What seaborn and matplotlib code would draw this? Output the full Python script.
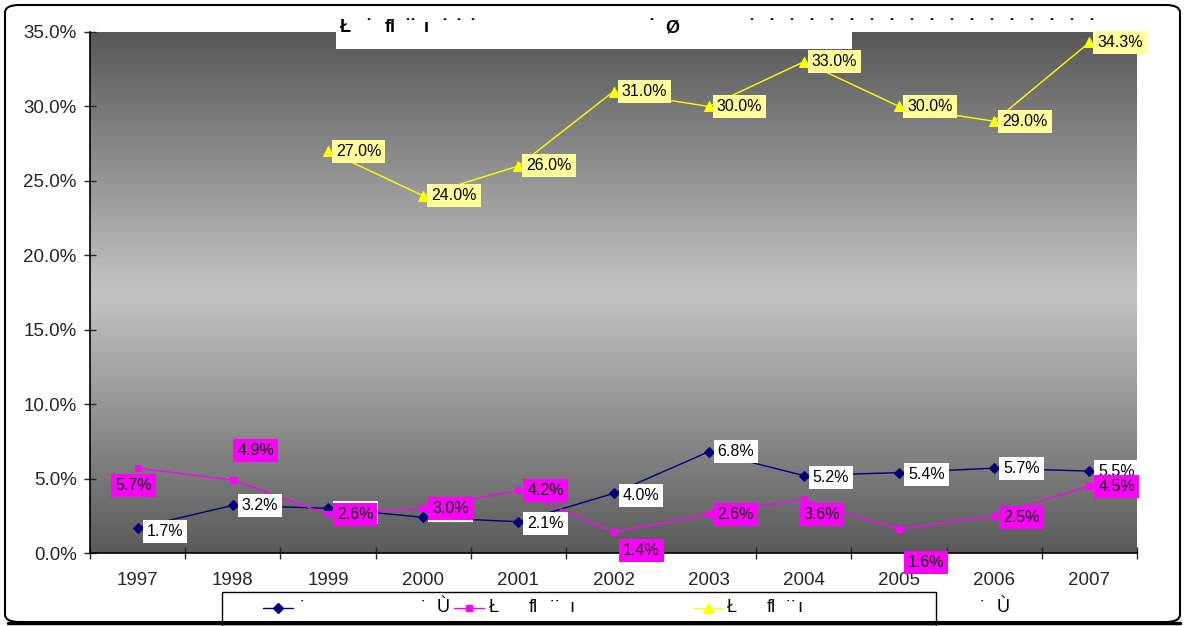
import numpy as np
import pandas as pd
import matplotlib
matplotlib.use("Agg")
import matplotlib.pyplot as plt
import seaborn as sns
from matplotlib.patches import FancyBboxPatch, Rectangle
from matplotlib.lines import Line2D
from matplotlib.colors import LinearSegmentedColormap
from matplotlib.ticker import FuncFormatter, FixedLocator

# ---------------- data ----------------
years = ['1997', '1998', '1999', '2000', '2001', '2002', '2003', '2004', '2005', '2006', '2007']
blue_vals = [1.7, 3.2, 3.0, 2.4, 2.1, 4.0, 6.8, 5.2, 5.4, 5.7, 5.5]
magenta_vals = [5.7, 4.9, 2.6, 3.0, 4.2, 1.4, 2.6, 3.6, 1.6, 2.5, 4.5]
yellow_vals = [np.nan, np.nan, 27.0, 24.0, 26.0, 31.0, 30.0, 33.0, 30.0, 29.0, 34.3]
y_ticks = [0, 5, 10, 15, 20, 25, 30, 35]

# ---------------- style ----------------
W, H = 1184, 626
sns.set_style("white")
plt.rcParams['font.family'] = ['Liberation Sans', 'DejaVu Sans']

fig = plt.figure(figsize=(W / 100, H / 100), dpi=100)
fig.patch.set_facecolor('white')

def fx(px):
    return px / W

def fy(py):
    return 1 - py / H

ax = fig.add_axes([fx(90), fy(553), fx(1137) - fx(90), fy(32) - fy(553)])
idx = np.arange(len(years))

# gradient background
cmap = LinearSegmentedColormap.from_list('g', ['#585858', '#c4c4c4', '#5a5a5a'])
grad = np.linspace(0, 1, 256).reshape(-1, 1)
ax.imshow(grad, extent=(-0.5, len(years) - 0.5, 0, 35), aspect='auto', cmap=cmap,
          origin='upper', zorder=0, interpolation='bicubic')

df = pd.DataFrame({'x': idx, 'blue': blue_vals, 'magenta': magenta_vals, 'yellow': yellow_vals})

sns.lineplot(data=df, x='x', y='blue', color='#000080', marker='D', markersize=5,
             markeredgecolor='#000080', linewidth=1, ax=ax, zorder=2)
sns.lineplot(data=df, x='x', y='magenta', color='#FF00FF', marker='s', markersize=5,
             markeredgecolor='#FF00FF', linewidth=1, ax=ax, zorder=2)
sns.lineplot(data=df.dropna(), x='x', y='yellow', color='#FFFF00', marker='^', markersize=7,
             markeredgecolor='#FFFF00', linewidth=1, ax=ax, zorder=2)

ax.set_xlim(-0.5, len(years) - 0.5)
ax.set_ylim(0, 35)
ax.set_xlabel('')
ax.set_ylabel('')

# axes styling
for s in ['top', 'right']:
    ax.spines[s].set_visible(False)
for s in ['left', 'bottom']:
    ax.spines[s].set_color('black')
    ax.spines[s].set_linewidth(1.2)

ax.yaxis.set_major_locator(FixedLocator(y_ticks))
ax.yaxis.set_major_formatter(FuncFormatter(lambda v, p: f"{v:.1f}%"))
ax.tick_params(axis='y', direction='inout', length=9, width=1, labelsize=13.5, pad=5, left=True)

ax.xaxis.set_major_locator(FixedLocator(np.arange(-0.5, len(years), 1.0)))
ax.xaxis.set_major_formatter(FuncFormatter(lambda v, p: ''))
ax.xaxis.set_minor_locator(FixedLocator(idx))
ax.set_xticklabels(years, minor=True)
ax.tick_params(axis='x', which='major', direction='inout', length=9, width=1, bottom=True)
ax.tick_params(axis='x', which='minor', length=0, labelsize=13.5, pad=14)
ax.grid(False)

# ---------------- data labels ----------------
lab_fs = 11.5
box_pad = 0.25

def label(i, v, dx, dy, ha, fc, z):
    ax.annotate(f"{v:.1f}%", (i, v), xytext=(dx, dy), textcoords='offset pixels',
                ha=ha, va='center', fontsize=lab_fs, color='black',
                bbox=dict(boxstyle=f'square,pad={box_pad}', fc=fc, ec='none'),
                zorder=z, annotation_clip=False)

blue_offsets = [(9, -4), (9, 0), (9, -4), (9, 7), (9, -2), (9, -2),
                (9, 0), (9, -2), (9, -2), (9, 0), (9, 0)]
for i, (v, (dx, dy)) in enumerate(zip(blue_vals, blue_offsets)):
    label(i, v, dx, dy, 'left', 'white', 3)

magenta_offsets = [(-4, -17, 'center'), (23, 30, 'center'), (9, 0, 'left'), (9, 0, 'left'),
                   (9, 0, 'left'), (28, -18, 'center'), (9, 0, 'left'), (18, -15, 'center'),
                   (27, -33, 'center'), (9, -2, 'left'), (9, 0, 'left')]
for i, (v, (dx, dy, ha)) in enumerate(zip(magenta_vals, magenta_offsets)):
    label(i, v, dx, dy, ha, '#FF00FF', 4)

for i, v in enumerate(yellow_vals):
    if not np.isnan(v):
        label(i, v, 8, 0, 'left', '#FFFF99', 5)

# ---------------- title (garbled, as in original) ----------------
fig.patches.append(Rectangle((fx(336), fy(49)), fx(852) - fx(336), fy(12) - fy(49),
                             transform=fig.transFigure, fc='white', ec='none', zorder=10))
title_pieces = [(340, 'Ł'), (365, '˙'), (385, 'fl'), (404, '˙˙'), (424, 'ı'),
                (441, '˙'), (455, '˙'), (469, '˙'), (648, '˙'), (665, 'Ø')]
for px, t in title_pieces:
    fig.text(fx(px), fy(28), t, ha='left', va='center', fontsize=13, fontweight='bold',
             color='black', zorder=11)
for k in range(18):
    fig.text(fx(748 + 20 * k), fy(28), '˙', ha='left', va='center', fontsize=13,
             fontweight='bold', color='black', zorder=11)

# ---------------- legend (garbled labels, overflowing box) ----------------
fig.patches.append(Rectangle((fx(222), fy(626)), fx(936) - fx(222), fy(592) - fy(626),
                             transform=fig.transFigure, fc='white', ec='black', lw=1, zorder=10))
ly = fy(608)
handles = [(263, 293, '#000080', 'D', 5), (454, 484, '#FF00FF', 's', 5), (693, 723, '#FFFF00', '^', 7)]
for x0, x1, c, m, ms in handles:
    fig.lines.append(Line2D([fx(x0), fx(x1)], [ly, ly], transform=fig.transFigure, color=c,
                            lw=1, zorder=11))
    fig.lines.append(Line2D([fx((x0 + x1) / 2)], [ly], transform=fig.transFigure, color=c,
                            marker=m, markersize=ms, markeredgecolor=c, zorder=12))
legend_pieces = [(300, '˙'), (421, '˙'), (437, 'Ù'), (489, 'Ł'), (529, 'fl'), (550, '˙˙'),
                 (569, 'ı'), (727, 'Ł'), (767, 'fl'), (786, '˙˙'), (797, 'ı'),
                 (980, '˙'), (997, 'Ù')]
for px, t in legend_pieces:
    fig.text(fx(px), ly, t, ha='left', va='center', fontsize=13, color='black', zorder=12)

# ---------------- outer rounded border ----------------
fig.patches.append(FancyBboxPatch((fx(5), fy(622)), fx(1180) - fx(5), fy(5) - fy(622),
                                  boxstyle='round,pad=0,rounding_size=0.012',
                                  transform=fig.transFigure, fc='none', ec='black', lw=1.5,
                                  zorder=20))
fig.lines.append(Line2D([fx(8), fx(1180)], [fy(623), fy(623)], transform=fig.transFigure,
                        color='black', lw=2.5, zorder=21))

fig.savefig('out.png', dpi=100)
